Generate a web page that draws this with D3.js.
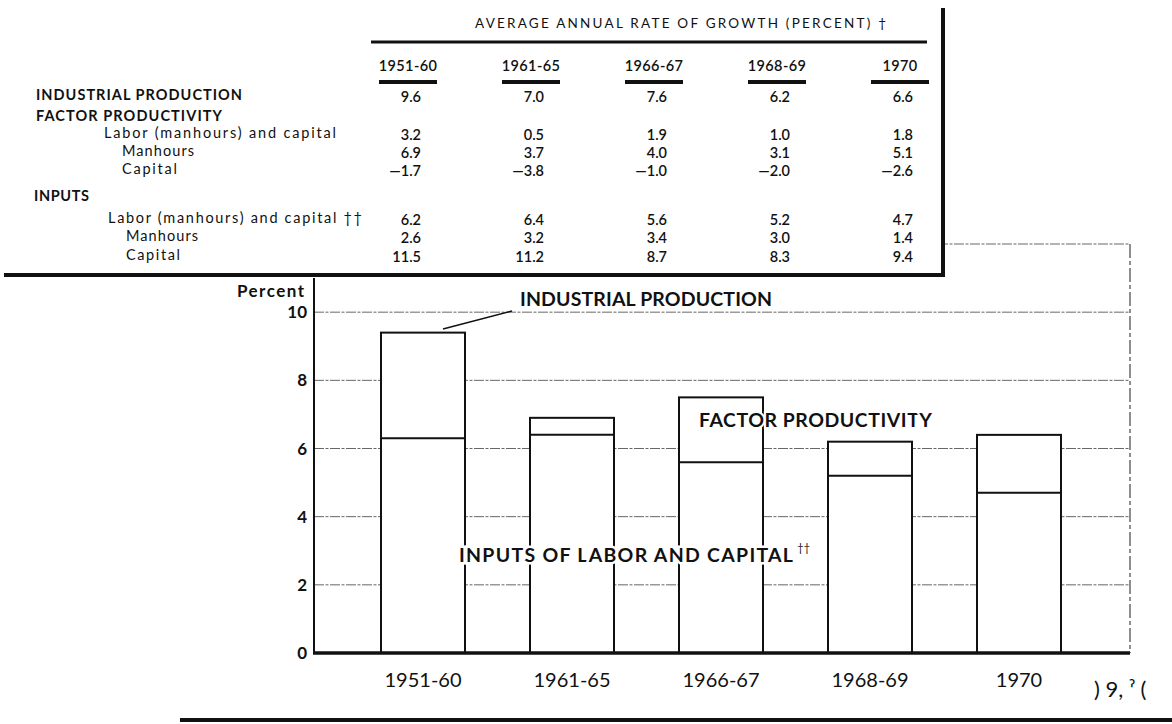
<!DOCTYPE html>
<html>
<head>
<meta charset="utf-8">
<script src="https://cdn.jsdelivr.net/npm/d3@7"></script>
<style>
  html, body { margin: 0; padding: 0; background: #fff; }
  svg { display: block; }
  text { font-family: Lato, "Open Sans", sans-serif; fill: #111; }
</style>
</head>
<body>
<svg id="chart" width="1172" height="724"></svg>
<script>
// table data (average annual rate of growth, percent)
const periods = ['1951-60', '1961-65', '1966-67', '1968-69', '1970'];
const industrialProduction = [9.6, 7.0, 7.6, 6.2, 6.6];
const fpLaborCapital = [3.2, 0.5, 1.9, 1.0, 1.8];
const fpManhours     = [6.9, 3.7, 4.0, 3.1, 5.1];
const fpCapital      = [-1.7, -3.8, -1.0, -2.0, -2.6];
const inLaborCapital = [6.2, 6.4, 5.6, 5.2, 4.7];
const inManhours     = [2.6, 3.2, 3.4, 3.0, 1.4];
const inCapital      = [11.5, 11.2, 8.7, 8.3, 9.4];

// bar heights as drawn in the chart
const chartProduction = [9.4, 6.9, 7.5, 6.2, 6.4];
const chartInputs     = [6.3, 6.4, 5.6, 5.2, 4.7];
const yTicks = [0, 2, 4, 6, 8, 10];

const svg = d3.select('#chart');
svg.append('rect').attr('width', 1172).attr('height', 724).attr('fill', '#fff');

// ---- chart ----
const x = d3.scalePoint().domain(periods).range([423, 1019]);
const y = d3.scaleLinear().domain([0, 12]).range([653, 244]);
const barW = 84;
const plotL = 314, plotR = 1130;

const grid = svg.append('g');
grid.selectAll('line')
  .data(yTicks.filter(d => d > 0).concat([12]))
  .join('line')
  .attr('x1', plotL).attr('x2', plotR)
  .attr('y1', d => y(d)).attr('y2', d => y(d))
  .attr('stroke', '#666').attr('stroke-width', 1)
  .attr('stroke-dasharray', '10,1.5,3,1.5');

grid.append('line')
  .attr('x1', plotR).attr('x2', plotR)
  .attr('y1', y(12)).attr('y2', y(0))
  .attr('stroke', '#444').attr('stroke-width', 1.2)
  .attr('stroke-dasharray', '14,3,4,3');

// bars
const bars = svg.append('g').selectAll('g')
  .data(periods.map((p, i) => ({ p, top: chartProduction[i], mid: chartInputs[i] })))
  .join('g');

bars.append('rect')
  .attr('x', d => x(d.p) - barW / 2)
  .attr('width', barW)
  .attr('y', d => y(d.top))
  .attr('height', d => y(0) - y(d.top))
  .attr('fill', '#fff').attr('stroke', '#111').attr('stroke-width', 2);

bars.append('line')
  .attr('x1', d => x(d.p) - barW / 2).attr('x2', d => x(d.p) + barW / 2)
  .attr('y1', d => y(d.mid)).attr('y2', d => y(d.mid))
  .attr('stroke', '#111').attr('stroke-width', 2);

// axes
svg.append('line')
  .attr('x1', plotL).attr('x2', plotL).attr('y1', 278).attr('y2', y(0) + 1)
  .attr('stroke', '#111').attr('stroke-width', 2);
svg.append('line')
  .attr('x1', plotL - 1).attr('x2', plotR).attr('y1', y(0)).attr('y2', y(0))
  .attr('stroke', '#111').attr('stroke-width', 3.5);

svg.append('g').selectAll('text')
  .data(yTicks)
  .join('text')
  .attr('x', 307).attr('y', d => y(d) + 6)
  .attr('text-anchor', 'end')
  .attr('font-size', 17).attr('font-weight', 'bold')
  .text(d => d);

svg.append('text')
  .attr('x', 237).attr('y', 297)
  .attr('font-size', 17).attr('font-weight', 'bold')
  .attr('textLength', 67)
  .text('Percent');

svg.append('g').selectAll('text')
  .data(periods)
  .join('text')
  .attr('x', d => x(d)).attr('y', 687)
  .attr('text-anchor', 'middle')
  .attr('font-size', 20)
  .text(d => d);

// annotations
svg.append('line')
  .attr('x1', 443).attr('y1', 329).attr('x2', 512).attr('y2', 311)
  .attr('stroke', '#111').attr('stroke-width', 1.5);
svg.append('text')
  .attr('x', 520).attr('y', 306)
  .attr('font-size', 19.5).attr('font-weight', 'bold')
  .attr('textLength', 252)
  .text('INDUSTRIAL PRODUCTION');

svg.append('text')
  .attr('x', 699).attr('y', 427)
  .attr('font-size', 19.5).attr('font-weight', 'bold')
  .attr('textLength', 233)
  .attr('stroke', '#fff').attr('stroke-width', 4).attr('paint-order', 'stroke')
  .text('FACTOR PRODUCTIVITY');

const inp = svg.append('text')
  .attr('x', 459).attr('y', 562)
  .attr('font-size', 19.5).attr('font-weight', 'bold')
  .attr('stroke', '#fff').attr('stroke-width', 5).attr('paint-order', 'stroke');
inp.append('tspan').attr('textLength', 334).text('INPUTS OF LABOR AND CAPITAL');
inp.append('tspan').attr('dx', 3).attr('dy', -10).attr('font-size', 11).attr('font-weight', 'normal').text('††');

// ---- table panel ----
const tbl = svg.append('g');
tbl.append('rect')
  .attr('x', 0).attr('y', 0).attr('width', 943).attr('height', 275)
  .attr('fill', '#fff');
tbl.append('line')
  .attr('x1', 943).attr('x2', 943).attr('y1', 8).attr('y2', 277)
  .attr('stroke', '#111').attr('stroke-width', 4);
tbl.append('line')
  .attr('x1', 4).attr('x2', 945).attr('y1', 275).attr('y2', 275)
  .attr('stroke', '#111').attr('stroke-width', 4);

tbl.append('text')
  .attr('x', 475).attr('y', 28)
  .attr('font-size', 13.5)
  .attr('textLength', 411)
  .text('AVERAGE ANNUAL RATE OF GROWTH (PERCENT) †');
tbl.append('line')
  .attr('x1', 371).attr('x2', 927).attr('y1', 42).attr('y2', 42)
  .attr('stroke', '#111').attr('stroke-width', 3);

const tx = d3.scalePoint().domain(periods).range([408, 900]);
const colHead = tbl.append('g').selectAll('g').data(periods).join('g');
colHead.append('text')
  .attr('x', d => tx(d)).attr('y', 71).attr('text-anchor', 'middle')
  .attr('font-size', 14.5).attr('font-weight', 600)
  .attr('letter-spacing', 0.4)
  .text(d => d);
colHead.append('line')
  .attr('x1', d => tx(d) - 29).attr('x2', d => tx(d) + 29)
  .attr('y1', 82).attr('y2', 82)
  .attr('stroke', '#111').attr('stroke-width', 4);

const fmt = v => v < 0 ? '\u2014' + d3.format('.1f')(-v) : d3.format('.1f')(v);

// row layout: gap to previous row, left edge and printed width
const rows = [
  { label: 'INDUSTRIAL PRODUCTION', head: true, vals: industrialProduction, gap: 0, left: 36, len: 206 },
  { label: 'FACTOR PRODUCTIVITY', head: true, gap: 21, left: 36, len: 186 },
  { label: 'Labor (manhours) and capital', vals: fpLaborCapital, gap: 17, left: 104, len: 232 },
  { label: 'Manhours', vals: fpManhours, gap: 17.5, left: 122, len: 72 },
  { label: 'Capital', vals: fpCapital, gap: 18, left: 122, len: 55 },
  { label: 'INPUTS', head: true, gap: 27, left: 34, len: 55 },
  { label: 'Labor (manhours) and capital ††', vals: inLaborCapital, gap: 22.5, left: 108, len: 254 },
  { label: 'Manhours', vals: inManhours, gap: 18, left: 126, len: 72 },
  { label: 'Capital', vals: inCapital, gap: 19, left: 126, len: 54 }
];
let ry = 100;
rows.forEach(r => { ry += r.gap; r.y = ry; });

const rowG = tbl.append('g').selectAll('g').data(rows).join('g');
rowG.append('text')
  .attr('x', d => d.left)
  .attr('y', d => d.y)
  .attr('font-size', 14.5)
  .attr('font-weight', d => d.head ? 'bold' : 'normal')
  .attr('textLength', d => d.len)
  .attr('lengthAdjust', 'spacing')
  .text(d => d.label);

rowG.filter(d => d.vals).selectAll('text.v')
  .data(d => d.vals.map((v, i) => ({ v, p: periods[i], y: d.y })))
  .join('text')
  .attr('class', 'v')
  .attr('x', d => tx(d.p) + 13)
  .attr('y', d => d.y + 2)
  .attr('text-anchor', 'end')
  .attr('font-size', 14.5).attr('font-weight', 600)
  .text(d => fmt(d.v));

// bottom rule and margin note
svg.append('line')
  .attr('x1', 180).attr('x2', 1172).attr('y1', 720).attr('y2', 720)
  .attr('stroke', '#111').attr('stroke-width', 4);
svg.append('text')
  .attr('x', 1094).attr('y', 697)
  .attr('font-size', 22).attr('fill', '#333')
  .text(') 9, ˀ (');
</script>
</body>
</html>
